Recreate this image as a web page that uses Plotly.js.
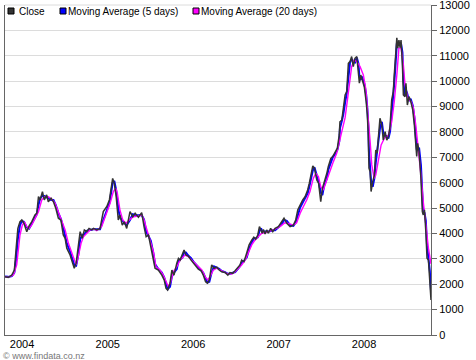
<!DOCTYPE html>
<html>
<head>
<meta charset="utf-8">
<script src="https://cdn.plot.ly/plotly-3.0.1.min.js"></script>
<style>html,body{margin:0;padding:0;background:#fff;}#chart{width:476px;height:360px;}</style>
</head>
<body>
<div id="chart"></div>
<script>
var closeDates = ["2003-10-20","2003-11-03","2003-11-18","2003-11-29","2003-12-06","2003-12-14","2003-12-23","2003-12-31","2004-01-09","2004-01-21","2004-01-31","2004-02-11","2004-02-25","2004-03-04","2004-03-11","2004-03-18","2004-03-28","2004-04-05","2004-04-15","2004-04-22","2004-05-04","2004-05-14","2004-05-24","2004-06-04","2004-06-15","2004-06-25","2004-07-03","2004-07-10","2004-07-24","2004-08-03","2004-08-11","2004-08-19","2004-08-28","2004-09-05","2004-09-14","2004-09-23","2004-10-03","2004-10-13","2004-10-25","2004-11-01","2004-11-15","2004-11-29","2004-12-13","2004-12-28","2005-01-08","2005-01-15","2005-01-22","2005-01-29","2005-02-06","2005-02-15","2005-02-22","2005-03-04","2005-03-13","2005-03-23","2005-04-06","2005-04-18","2005-04-28","2005-05-12","2005-05-26","2005-06-05","2005-06-14","2005-06-24","2005-07-04","2005-07-15","2005-07-22","2005-08-05","2005-08-20","2005-08-30","2005-09-07","2005-09-14","2005-09-24","2005-10-02","2005-10-11","2005-10-23","2005-10-30","2005-11-06","2005-11-16","2005-11-23","2005-12-01","2005-12-11","2005-12-23","2006-01-02","2006-01-12","2006-01-23","2006-02-04","2006-02-13","2006-02-23","2006-03-03","2006-03-11","2006-03-21","2006-03-31","2006-04-12","2006-04-22","2006-05-03","2006-05-17","2006-05-29","2006-06-07","2006-06-19","2006-06-29","2006-07-10","2006-07-20","2006-07-27","2006-08-06","2006-08-18","2006-08-28","2006-09-08","2006-09-17","2006-09-25","2006-10-04","2006-10-11","2006-10-18","2006-10-23","2006-10-28","2006-11-04","2006-11-11","2006-11-18","2006-11-28","2006-12-07","2006-12-17","2006-12-31","2007-01-14","2007-01-24","2007-02-05","2007-02-19","2007-03-05","2007-03-15","2007-03-24","2007-04-03","2007-04-14","2007-04-24","2007-05-05","2007-05-12","2007-05-20","2007-05-27","2007-06-03","2007-06-13","2007-06-21","2007-06-30","2007-07-07","2007-07-14","2007-07-26","2007-08-01","2007-08-12","2007-08-20","2007-08-30","2007-09-09","2007-09-17","2007-09-20","2007-09-28","2007-10-04","2007-10-12","2007-10-19","2007-10-26","2007-11-02","2007-11-09","2007-11-16","2007-11-23","2007-12-01","2007-12-08","2007-12-12","2007-12-18","2007-12-25","2008-01-02","2008-01-10","2008-01-15","2008-01-19","2008-01-22","2008-01-27","2008-01-31","2008-02-07","2008-02-14","2008-02-20","2008-02-26","2008-03-02","2008-03-09","2008-03-17","2008-03-23","2008-03-31","2008-04-07","2008-04-14","2008-04-21","2008-04-28","2008-05-05","2008-05-09","2008-05-15","2008-05-20","2008-05-24","2008-05-29","2008-06-03","2008-06-07","2008-06-13","2008-06-17","2008-06-24","2008-06-28","2008-07-04","2008-07-11","2008-07-18","2008-07-27","2008-08-03","2008-08-09","2008-08-13","2008-08-17","2008-08-23","2008-08-31","2008-09-06","2008-09-10","2008-09-15","2008-09-21","2008-09-26","2008-10-02","2008-10-08","2008-10-13"];

var closeValues = [2300,2270,2360,2560,3350,4200,4460,4530,4400,4070,4300,4460,4730,4800,5450,5320,5650,5320,5520,5250,5390,5250,4990,4600,4530,3940,3810,3420,3150,2890,2630,2830,3480,4070,3810,4140,4070,4200,4140,4200,4140,4200,4860,5060,5320,5840,6170,5970,5450,4530,4730,4330,4460,4200,4860,4660,4800,4640,4820,4270,3870,3940,3480,2950,2630,2560,2360,2170,1840,1770,2040,2560,2360,2830,3020,2950,3150,3350,3150,3110,2950,2830,2720,2590,2530,2360,2100,2040,2170,2760,2630,2670,2560,2490,2460,2360,2460,2430,2530,2670,2760,2950,2890,3240,3550,3740,3850,3770,3940,4270,4140,4010,4160,3980,4140,4010,4200,4070,4200,4270,4460,4600,4400,4270,4330,4530,4930,5120,5320,5450,5710,5970,6300,6660,6570,6110,5970,5250,5780,5970,6370,6630,6960,7030,7220,7360,7880,8400,8470,8870,9460,9590,10700,10770,10970,10570,10900,10970,10440,9920,10240,10050,9780,9190,8670,7880,6570,6430,5650,6040,6300,7290,7160,7750,8540,8270,7680,8010,7680,7810,8210,9260,9590,10240,11230,11710,11300,11620,11320,11620,10640,9460,9390,9920,9060,9390,9220,8870,8270,7620,7030,7550,7220,6170,4860,4730,4930,4070,3020,2950,2100,1380];

var ma5Values = [2300,2290,2320,2460,2950,3780,4330,4490,4460,4240,4190,4380,4600,4760,5120,5380,5480,5480,5420,5380,5320,5320,5120,4800,4570,4240,3880,3610,3290,3020,2760,2730,3150,3770,3940,3970,4100,4130,4170,4170,4170,4170,4530,4960,5190,5580,6000,6070,5710,4990,4630,4530,4400,4330,4530,4760,4730,4720,4730,4550,4070,3900,3710,3210,2790,2600,2460,2270,2000,1810,1900,2300,2460,2600,2920,2990,3050,3250,3250,3130,3030,2890,2780,2660,2560,2450,2230,2070,2100,2470,2700,2650,2610,2520,2480,2410,2410,2450,2480,2600,2710,2850,2920,3060,3400,3640,3800,3810,3850,4100,4200,4080,4080,4070,4060,4080,4100,4130,4130,4230,4360,4530,4500,4330,4300,4430,4730,5020,5220,5380,5580,5840,6130,6480,6610,6340,6040,5610,5510,5870,6170,6500,6790,7000,7120,7290,7620,8140,8430,8670,9160,9520,10140,10730,10870,10770,10730,10930,10700,10180,10080,10140,9910,9480,8930,8270,7220,6500,6040,5840,6170,6790,7220,7450,8140,8400,7970,7840,7840,7740,8010,8730,9420,9910,10730,11470,11500,11460,11470,11470,11130,10050,9420,9650,9490,9220,9300,9040,8570,7940,7320,7290,7380,6690,5510,4790,4830,4500,3540,2980,2520,1740];

var ma20Dates = ["2003-10-20","2003-11-03","2003-11-25","2003-12-09","2003-12-16","2003-12-23","2004-01-02","2004-01-11","2004-01-21","2004-01-31","2004-02-11","2004-02-25","2004-03-11","2004-03-25","2004-04-08","2004-04-22","2004-05-07","2004-05-21","2004-06-04","2004-06-18","2004-07-03","2004-07-17","2004-07-31","2004-08-11","2004-08-19","2004-08-28","2004-09-09","2004-09-19","2004-10-03","2004-10-17","2004-11-05","2004-11-15","2004-12-06","2004-12-28","2005-01-11","2005-01-25","2005-02-04","2005-02-11","2005-02-22","2005-03-06","2005-03-20","2005-04-03","2005-04-20","2005-05-12","2005-05-26","2005-06-05","2005-06-17","2005-07-01","2005-07-15","2005-07-26","2005-08-12","2005-08-26","2005-09-07","2005-09-17","2005-09-27","2005-10-08","2005-10-23","2005-11-06","2005-11-27","2005-12-11","2005-12-26","2006-01-09","2006-01-23","2006-02-07","2006-02-21","2006-03-04","2006-03-14","2006-03-28","2006-04-12","2006-05-03","2006-05-24","2006-06-15","2006-06-29","2006-07-13","2006-07-27","2006-08-11","2006-08-25","2006-09-08","2006-09-22","2006-10-06","2006-10-21","2006-11-04","2006-12-09","2007-01-07","2007-01-28","2007-02-11","2007-03-05","2007-03-19","2007-04-03","2007-04-17","2007-05-01","2007-05-15","2007-05-29","2007-06-09","2007-06-20","2007-06-30","2007-07-11","2007-07-26","2007-08-09","2007-08-23","2007-09-06","2007-09-20","2007-10-02","2007-10-12","2007-10-22","2007-11-02","2007-11-09","2007-11-20","2007-12-01","2007-12-15","2007-12-29","2008-01-08","2008-01-17","2008-01-27","2008-02-03","2008-02-13","2008-02-20","2008-03-02","2008-03-14","2008-03-28","2008-04-14","2008-04-28","2008-05-09","2008-05-20","2008-05-29","2008-06-07","2008-06-17","2008-06-24","2008-07-06","2008-07-20","2008-07-30","2008-08-09","2008-08-20","2008-08-31","2008-09-10","2008-09-21","2008-10-02","2008-10-13"];

var ma20Values = [2300,2270,2360,2760,3350,3940,4330,4460,4270,4200,4330,4600,4860,5320,5450,5450,5350,5190,4860,4530,4140,3610,3220,2890,2760,3090,3610,3870,4010,4140,4170,4110,4270,4800,5190,5650,5780,5580,4930,4530,4400,4530,4660,4690,4730,4530,4140,3740,3280,2690,2560,2360,2100,1900,2100,2490,2690,2950,3150,3090,2950,2830,2690,2560,2300,2170,2300,2560,2630,2530,2430,2400,2490,2630,2760,2950,3280,3550,3740,3870,4010,4030,4140,4270,4420,4400,4330,4420,4800,5060,5320,5650,6170,6370,6240,5840,5710,6110,6500,6830,7160,7680,8140,8560,9260,10050,10570,10830,10770,10570,10240,9720,8800,7620,6700,6170,6300,6900,7490,7750,7880,8400,9190,10240,11300,11300,10640,9850,9330,9190,8930,8270,7360,6300,5250,4330,3420,2800];

var yearTicks = ["2004-01-01","2005-01-01","2006-01-01","2007-01-01","2008-01-01"];
var yearLabels = ["2004","2005","2006","2007","2008"];

var seriesNames = ["Close","Moving Average (5 days)","Moving Average (20 days)"];
var seriesColors = ["#333333","#0000ff","#ff00ff"];

// plot area in pixels
var W = 476, H = 360, PL = 5, PR = 431, PT = 5, PB = 335;
function px(x){ return (x - PL) / (PR - PL); }
function py(y){ return (PB - y) / (PB - PT); }

var traces = [
  {x: closeDates, y: ma5Values, type: "scatter", mode: "lines", name: seriesNames[1],
   line: {color: seriesColors[1], width: 2}, showlegend: false, hoverinfo: "skip"},
  {x: ma20Dates, y: ma20Values, type: "scatter", mode: "lines", name: seriesNames[2],
   line: {color: seriesColors[2], width: 1.4}, showlegend: false, hoverinfo: "skip"},
  {x: closeDates, y: closeValues, type: "scatter", mode: "lines", name: seriesNames[0],
   line: {color: seriesColors[0], width: 1.5}, showlegend: false, hoverinfo: "skip"}
];

var legendSquares = [11, 63, 196];
var legendText = [18, 67, 200];
var shapes = [
  {type: "line", xref: "paper", yref: "paper", x0: 0, x1: 1, y0: 1, y1: 1,
   line: {color: "#dcdcdc", width: 1}, layer: "below"}
];
var annotations = [];
for (var i = 0; i < 3; i++) {
  shapes.push({type: "rect", xref: "paper", yref: "paper",
    x0: px(legendSquares[i] - 3), x1: px(legendSquares[i] + 3),
    y0: py(14), y1: py(8),
    fillcolor: seriesColors[i], line: {color: "#000", width: 1}});
  annotations.push({xref: "paper", yref: "paper", x: px(legendText[i]), y: py(11.5),
    xanchor: "left", yanchor: "middle", showarrow: false, text: seriesNames[i],
    borderpad: 0, font: {family: "Liberation Sans, Arial, sans-serif", size: 10, color: "#000"}});
}
annotations.push({xref: "paper", yref: "paper", x: px(2), y: py(356), xanchor: "left", yanchor: "middle",
  showarrow: false, text: "\u00a9 www.findata.co.nz", borderpad: 0,
  font: {family: "Liberation Sans, Arial, sans-serif", size: 9, color: "#777"}});

var layout = {
  width: W, height: H,
  margin: {l: PL, r: W - PR, t: PT, b: H - PB, pad: 0},
  paper_bgcolor: "#fff", plot_bgcolor: "#fff",
  showlegend: false,
  xaxis: {type: "date", range: ["2003-10-20", "2008-10-13"], tickvals: yearTicks, ticktext: yearLabels,
    ticks: "", showgrid: false, showline: true, linecolor: "#666", linewidth: 1, zeroline: false,
    ticklabelstandoff: -1,
    tickfont: {family: "Liberation Sans, Arial, sans-serif", size: 11, color: "#000"}, fixedrange: true},
  yaxis: {side: "right", range: [0, 13000], tick0: 0, dtick: 1000, tickformat: "d",
    ticks: "outside", ticklen: 5, tickcolor: "#666", tickwidth: 1, ticklabeloverflow: "allow",
    showline: true, mirror: true, linecolor: "#666", linewidth: 1,
    showgrid: true, gridcolor: "#dcdcdc", gridwidth: 1, zeroline: false,
    tickfont: {family: "Liberation Sans, Arial, sans-serif", size: 11, color: "#000"}, fixedrange: true},
  shapes: shapes,
  annotations: annotations
};

Plotly.newPlot("chart", traces, layout, {displayModeBar: false, staticPlot: true});
</script>
</body>
</html>
